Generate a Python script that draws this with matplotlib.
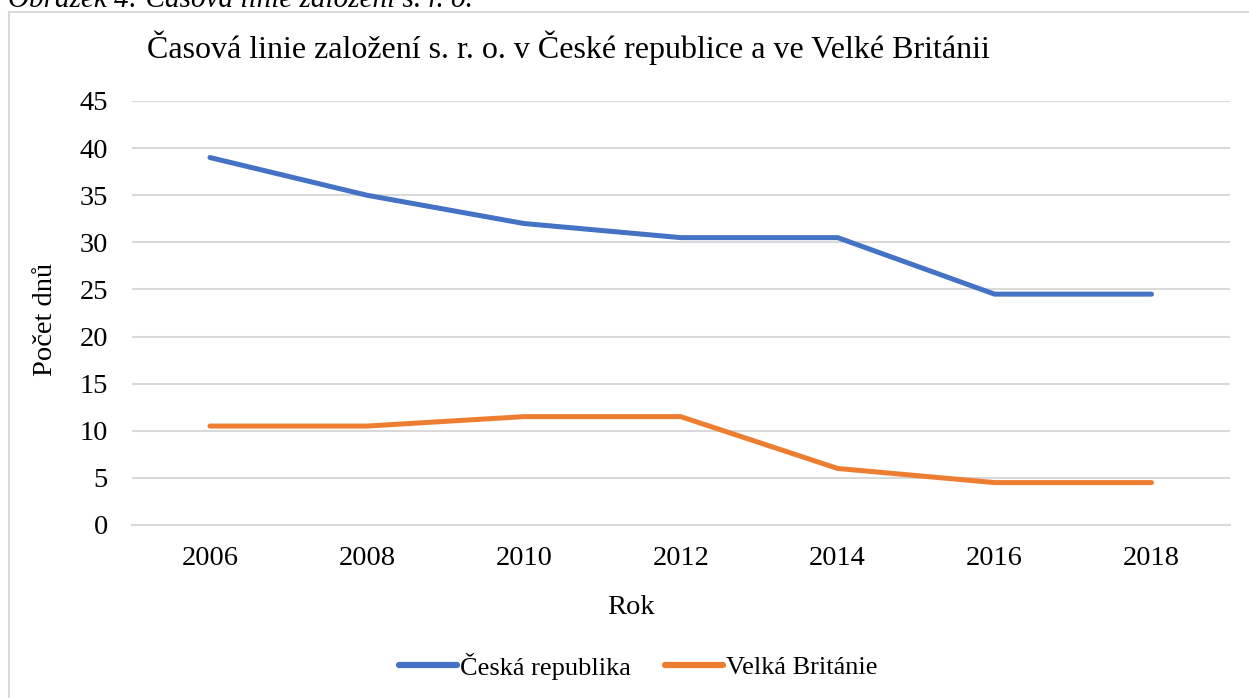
import matplotlib
matplotlib.use("Agg")
import matplotlib.pyplot as plt
from matplotlib.patches import Rectangle

years = ["2006", "2008", "2010", "2012", "2014", "2016", "2018"]
cz_values = [39, 35, 32, 30.5, 30.5, 24.5, 24.5]
uk_values = [10.5, 10.5, 11.5, 11.5, 6, 4.5, 4.5]
series_names = ["Česká republika", "Velká Británie"]
yticks = [0, 5, 10, 15, 20, 25, 30, 35, 40, 45]

plt.rcParams['font.family'] = ['Liberation Serif', 'DejaVu Serif']

W, H = 1249, 698
fig = plt.figure(figsize=(W / 100, H / 100), dpi=100)

# chart frame
fig.patches.append(Rectangle((9 / W, -0.1), 1.2, 1 - 12.5 / H + 0.1, transform=fig.transFigure,
                             fill=False, edgecolor="#d9d9d9", linewidth=1.5))

# cut-off caption
fig.text(8 / W, 1 - 7 / H, "Obrázek 4: Časová linie založení s. r. o.", style="italic",
         fontsize=21, va="baseline", ha="left", color="black")

left, right = 131.5 / W, 1230 / W
bottom, top = 1 - 525 / H, 1 - 101 / H
ax = fig.add_axes([left, bottom, right - left, top - bottom])

x = list(range(len(years)))
ax.plot(x, cz_values, color="#4472C4", linewidth=3.6, solid_capstyle="round",
        solid_joinstyle="round", label=series_names[0])
ax.plot(x, uk_values, color="#ED7D31", linewidth=3.6, solid_capstyle="round",
        solid_joinstyle="round", label=series_names[1])

ax.set_xlim(-0.5, len(years) - 0.5)
ax.set_ylim(0, 45)
ax.set_yticks(yticks)
ax.set_yticklabels([str(t) for t in yticks])
ax.set_xticks(x)
ax.set_xticklabels(years)
ax.yaxis.grid(True, color="#d9d9d9", linewidth=1.5)
ax.set_axisbelow(True)
for s in ["left", "right", "top"]:
    ax.spines[s].set_visible(False)
ax.spines["bottom"].set_color("#d9d9d9")
ax.spines["bottom"].set_linewidth(1.5)
ax.tick_params(axis="both", length=0, labelsize=20.5, colors="black")
ax.tick_params(axis="y", pad=17)
ax.tick_params(axis="x", pad=15)

fig.text(46 / W, 1 - 319 / H, "Počet dnů", rotation=90, fontsize=20.5, ha="center", va="center")
fig.text(631 / W, 1 - 607 / H, "Rok", fontsize=20.5, ha="center", va="center")
fig.text(568 / W, 1 - 48 / H, "Časová linie založení s. r. o. v České republice a ve Velké Británii",
         fontsize=23, ha="center", va="center")

leg = fig.legend(loc="center", bbox_to_anchor=(638 / W, 1 - 666 / H), ncol=2, frameon=False,
                 fontsize=19, handlelength=2.2, handletextpad=0.1, columnspacing=1.3)
for h in leg.legend_handles:
    h.set_linewidth(4.5)

fig.savefig("out.png", dpi=100)
